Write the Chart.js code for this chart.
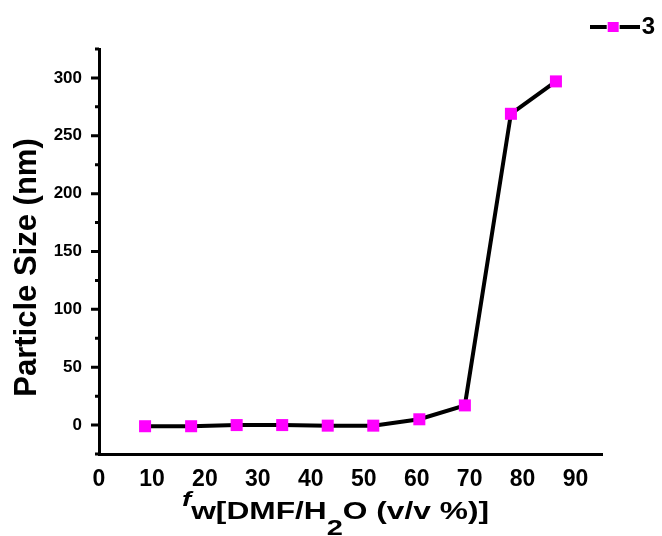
<!DOCTYPE html>
<html>
<head>
<meta charset="utf-8">
<script src="https://cdn.jsdelivr.net/npm/chart.js@4.4.1/dist/chart.umd.min.js"></script>
<style>
  html, body { margin: 0; padding: 0; background: #fff; }
  #wrap { width: 662px; height: 536px; }
</style>
</head>
<body>
<div id="wrap"><canvas id="size-chart" width="662" height="536"></canvas></div>
<script>
// values
const waterFraction = [8.7, 17.4, 26.0, 34.6, 43.2, 51.8, 60.5, 69.1, 77.8, 86.3];
const particleSize = [-1, -1, 0, 0, -0.5, -0.5, 5, 17, 269, 297];
const seriesLabel = '3';

const xTicks = [0, 10, 20, 30, 40, 50, 60, 70, 80, 90];
const yTicks = [0, 50, 100, 150, 200, 250, 300];
const yMinorTicks = [-25, 25, 75, 125, 175, 225, 275, 325];

const yTitle = 'Particle Size (nm)';
// x title parts: f (italic), w, [DMF/H, subscript 2, O (v/v %)]
const xTitleParts = ['f', 'w', '[DMF/H', '2', 'O (v/v %)]'];

const FONT = '"Liberation Sans", Arial, sans-serif';
const MAGENTA = '#ff00ff';

// legend icon: line - square - line
const legendIcon = document.createElement('canvas');
legendIcon.width = 50;
legendIcon.height = 12;
(function () {
  const c = legendIcon.getContext('2d');
  c.strokeStyle = '#000';
  c.lineWidth = 4;
  c.beginPath();
  c.moveTo(0, 6); c.lineTo(17, 6);
  c.moveTo(30, 6); c.lineTo(50, 6);
  c.stroke();
  c.fillStyle = MAGENTA;
  c.fillRect(18, 1, 11, 10);
})();

const axisDecor = {
  id: 'axisDecor',
  afterDraw(chart) {
    const ctx = chart.ctx;
    const a = chart.chartArea;
    const y = chart.scales.y;
    ctx.save();
    ctx.strokeStyle = '#000';
    ctx.lineWidth = 3;
    ctx.beginPath();
    yTicks.forEach(function (v) {
      const py = y.getPixelForValue(v);
      ctx.moveTo(a.left - 8, py); ctx.lineTo(a.left, py);
    });
    yMinorTicks.forEach(function (v) {
      const py = y.getPixelForValue(v);
      ctx.moveTo(a.left - 4, py); ctx.lineTo(a.left, py);
    });
    ctx.stroke();

    // y title
    ctx.fillStyle = '#000';
    ctx.save();
    ctx.translate(a.left - 72, (a.top + a.bottom) / 2 + 16);
    ctx.rotate(-Math.PI / 2);
    ctx.font = 'bold 31px ' + FONT;
    ctx.textAlign = 'center';
    ctx.textBaseline = 'middle';
    ctx.fillText(yTitle, 0, 0);
    ctx.restore();

    // x title
    ctx.save();
    ctx.translate(a.left + 83, a.bottom + 65);
    ctx.scale(1.32, 1);
    ctx.textAlign = 'left';
    ctx.textBaseline = 'alphabetic';
    const fonts = ['italic bold 21px ', 'bold 24px ', 'bold 24px ', 'bold 22px ', 'bold 24px '];
    const dys = [-13, 0, 0, 16, 0];
    const gaps = [0, 0, 0, 0, 0];
    let cx = 0;
    xTitleParts.forEach(function (t, i) {
      ctx.font = fonts[i] + FONT;
      ctx.fillText(t, cx, dys[i]);
      cx += ctx.measureText(t).width + gaps[i];
    });
    ctx.restore();
    ctx.restore();
  }
};

new Chart(document.getElementById('size-chart'), {
  type: 'line',
  data: {
    datasets: [{
      label: seriesLabel,
      data: waterFraction.map(function (x, i) { return { x: x, y: particleSize[i] }; }),
      borderColor: '#000',
      borderWidth: 4,
      tension: 0,
      pointStyle: 'rect',
      pointRadius: 8.5,
      pointBorderWidth: 0,
      pointBackgroundColor: MAGENTA,
      pointBorderColor: MAGENTA
    }]
  },
  options: {
    responsive: false,
    animation: false,
    devicePixelRatio: 1,
    layout: { padding: { top: 8, left: 0, right: 0, bottom: 0 } },
    plugins: {
      tooltip: { enabled: false },
      legend: {
        position: 'top',
        align: 'end',
        labels: {
          usePointStyle: true,
          pointStyleWidth: 30,
          boxHeight: 12,
          padding: 7,
          color: '#000',
          font: { family: FONT, size: 24, weight: 'bold' },
          generateLabels: function (chart) {
            return [{
              text: seriesLabel,
              pointStyle: legendIcon,
              fillStyle: MAGENTA,
              strokeStyle: '#000',
              lineWidth: 0,
              hidden: false,
              datasetIndex: 0
            }];
          }
        }
      }
    },
    scales: {
      x: {
        type: 'linear',
        min: 0,
        max: 95,
        afterBuildTicks: function (s) { s.ticks = xTicks.map(function (v) { return { value: v }; }); },
        afterFit: function (s) { s.height = 82; },
        grid: { display: false, drawTicks: false },
        border: { display: true, color: '#000', width: 3 },
        ticks: {
          padding: 12,
          color: '#000',
          maxRotation: 0,
          autoSkip: false,
          font: { family: FONT, size: 23, weight: 'bold' }
        }
      },
      y: {
        type: 'linear',
        min: -25,
        max: 325,
        afterBuildTicks: function (s) { s.ticks = yTicks.map(function (v) { return { value: v }; }); },
        afterFit: function (s) { s.width = 99; },
        grid: { display: false, drawTicks: false },
        border: { display: true, color: '#000', width: 3 },
        ticks: {
          padding: 17,
          color: '#000',
          autoSkip: false,
          font: { family: FONT, size: 17, weight: 'bold' }
        }
      },
      spacer: {
        position: 'right',
        display: true,
        afterFit: function (s) { s.width = 60; },
        grid: { display: false, drawTicks: false },
        border: { display: false },
        ticks: { display: false }
      }
    }
  },
  plugins: [axisDecor]
});
</script>
</body>
</html>
